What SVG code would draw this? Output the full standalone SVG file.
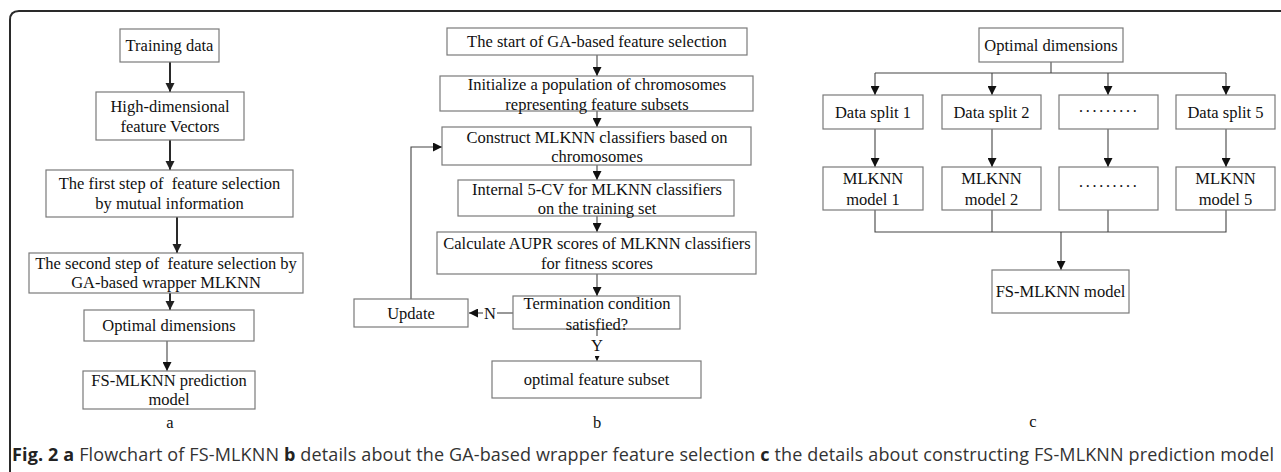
<svg xmlns="http://www.w3.org/2000/svg" width="1281" height="472" viewBox="0 0 1281 472">
<style>
.box{fill:#fff;stroke:#7a7a7a;stroke-width:1.2}
.t{font-family:"Liberation Serif","Times New Roman",serif;font-size:16.5px;fill:#111;text-anchor:middle}
.thick{fill:none;stroke:#2a2a2a;stroke-width:2}
.thin{fill:none;stroke:#444;stroke-width:1.1}
.cap{font-family:"Open Sans","Noto Sans",sans-serif;font-size:18px;fill:#333}
.capb{font-weight:bold;fill:#222}
</style>
<defs>
<marker id="ahb" viewBox="0 0 10 10" refX="10" refY="5" markerWidth="9" markerHeight="10" orient="auto" markerUnits="userSpaceOnUse"><path d="M0,0 L10,5 L0,10 z" fill="#222"/></marker>
<marker id="ah" viewBox="0 0 10 10" refX="10" refY="5" markerWidth="9" markerHeight="9" orient="auto" markerUnits="userSpaceOnUse"><path d="M0,0 L10,5 L0,10 z" fill="#111"/></marker>
<marker id="ahs" viewBox="0 0 10 10" refX="10" refY="5" markerWidth="5" markerHeight="5" orient="auto" markerUnits="userSpaceOnUse"><path d="M0,0 L10,5 L0,10 z" fill="#111"/></marker>
</defs>

<path id="frame" d="M10,472 V20 Q10,11 19,11 H1281" fill="none" stroke="#2a2a2a" stroke-width="2"/>

<g id="connectors">
  <!-- panel a -->
  <line class="thick" x1="170" y1="62" x2="170" y2="92" marker-end="url(#ahb)"/>
  <line class="thick" x1="170" y1="140" x2="170" y2="170" marker-end="url(#ahb)"/>
  <line class="thick" x1="177" y1="217" x2="177" y2="253" marker-end="url(#ahb)"/>
  <line class="thick" x1="170" y1="293" x2="170" y2="310" marker-end="url(#ahb)"/>
  <line class="thin" x1="167" y1="341" x2="167" y2="371" marker-end="url(#ah)"/>
  <!-- panel b -->
  <line class="thin" x1="597" y1="55" x2="597" y2="76" marker-end="url(#ah)"/>
  <line class="thin" x1="597" y1="111" x2="597" y2="127" marker-end="url(#ah)"/>
  <line class="thin" x1="597" y1="165" x2="597" y2="180" marker-end="url(#ah)"/>
  <line class="thin" x1="597" y1="216" x2="597" y2="232" marker-end="url(#ah)"/>
  <line class="thin" x1="597" y1="274" x2="597" y2="296" marker-end="url(#ah)"/>
  <line class="thin" x1="513" y1="313" x2="497" y2="313"/>
  <line class="thin" x1="483" y1="313" x2="469" y2="313" marker-end="url(#ah)"/>
  <polyline class="thin" points="411,299 411,147 442,147" marker-end="url(#ah)"/>
  <line class="thin" x1="597" y1="329" x2="597" y2="336"/>
  <line class="thin" x1="597" y1="356" x2="597" y2="361" marker-end="url(#ahs)"/>
  <!-- panel c -->
  <line class="thin" x1="1051" y1="62" x2="1051" y2="73"/>
  <line class="thin" x1="875" y1="73" x2="1226" y2="73"/>
  <line class="thin" x1="875" y1="73" x2="875" y2="95" marker-end="url(#ah)"/>
  <line class="thin" x1="992" y1="73" x2="992" y2="95" marker-end="url(#ah)"/>
  <line class="thin" x1="1108" y1="73" x2="1108" y2="95" marker-end="url(#ah)"/>
  <line class="thin" x1="1226" y1="73" x2="1226" y2="95" marker-end="url(#ah)"/>
  <line class="thin" x1="875" y1="129" x2="875" y2="167" marker-end="url(#ah)"/>
  <line class="thin" x1="992" y1="129" x2="992" y2="167" marker-end="url(#ah)"/>
  <line class="thin" x1="1108" y1="129" x2="1108" y2="167" marker-end="url(#ah)"/>
  <line class="thin" x1="1226" y1="129" x2="1226" y2="167" marker-end="url(#ah)"/>
  <polyline class="thin" points="875,210 875,232 1226,232 1226,210"/>
  <line class="thin" x1="992" y1="210" x2="992" y2="232"/>
  <line class="thin" x1="1108" y1="210" x2="1108" y2="232"/>
  <line class="thin" x1="1061" y1="232" x2="1061" y2="270" marker-end="url(#ah)"/>
</g>

<!-- panel a -->
<g id="a-training"><rect class="box" x="120" y="29" width="99" height="33"/><text class="t" x="169.5" y="51">Training data</text></g>
<g id="a-highdim"><rect class="box" x="96" y="92" width="148" height="48"/><text class="t" x="170" y="112">High-dimensional</text><text class="t" x="170" y="132">feature Vectors</text></g>
<g id="a-first"><rect class="box" x="46" y="170" width="247" height="47"/><text class="t" x="169.5" y="189" xml:space="preserve">The first step of  feature selection</text><text class="t" x="169.5" y="209">by mutual information</text></g>
<g id="a-second"><rect class="box" x="29" y="253" width="274" height="40"/><text class="t" x="166" y="268.5" xml:space="preserve">The second step of  feature selection by</text><text class="t" x="166" y="288">GA-based wrapper MLKNN</text></g>
<g id="a-optimal"><rect class="box" x="84" y="310" width="170" height="31"/><text class="t" x="169" y="331">Optimal dimensions</text></g>
<g id="a-fsmlknn"><rect class="box" x="83" y="371" width="172" height="38"/><text class="t" x="169" y="385.5">FS-MLKNN prediction</text><text class="t" x="169" y="405">model</text></g>
<text class="t" x="170" y="428">a</text>

<!-- panel b -->
<g id="b-start"><rect class="box" x="447" y="28" width="300" height="27"/><text class="t" x="597" y="47">The start of GA-based feature selection</text></g>
<g id="b-init"><rect class="box" x="440" y="76" width="313" height="35"/><text class="t" x="597" y="89.5">Initialize a population of chromosomes</text><text class="t" x="597" y="109.5">representing feature subsets</text></g>
<g id="b-construct"><rect class="box" x="442" y="127" width="309" height="38"/><text class="t" x="597" y="142.5">Construct MLKNN classifiers based on</text><text class="t" x="597" y="161.5">chromosomes</text></g>
<g id="b-internal"><rect class="box" x="458" y="180" width="276" height="36"/><text class="t" x="597" y="194.5">Internal 5-CV for MLKNN classifiers</text><text class="t" x="597" y="213.5">on the training set</text></g>
<g id="b-calc"><rect class="box" x="437" y="232" width="319" height="42"/><text class="t" x="597" y="248.5">Calculate AUPR scores of MLKNN classifiers</text><text class="t" x="597" y="268.5">for fitness scores</text></g>
<g id="b-term"><rect class="box" x="513" y="296" width="167" height="33"/><text class="t" x="597" y="308.5">Termination condition</text><text class="t" x="597" y="329.5">satisfied?</text></g>
<g id="b-update"><rect class="box" x="354" y="299" width="114" height="28"/><text class="t" x="411" y="318.5">Update</text></g>
<text class="t" x="490" y="318.5">N</text>
<text class="t" x="597" y="351">Y</text>
<g id="b-optimal"><rect class="box" x="492" y="361" width="209" height="37"/><text class="t" x="596.5" y="385">optimal feature subset</text></g>
<text class="t" x="597" y="428">b</text>

<!-- panel c -->
<g id="c-optimal"><rect class="box" x="979" y="28" width="144" height="34"/><text class="t" x="1051" y="50.5">Optimal dimensions</text></g>
<g id="c-split1"><rect class="box" x="823" y="95" width="100" height="34"/><text class="t" x="873" y="117.5">Data split 1</text></g>
<g id="c-split2"><rect class="box" x="942" y="95" width="99" height="34"/><text class="t" x="991.5" y="117.5">Data split 2</text></g>
<g id="c-split3"><rect class="box" x="1059" y="95" width="99" height="34"/><text class="t" x="1108.5" y="117" letter-spacing="1.2">·········</text></g>
<g id="c-split5"><rect class="box" x="1176" y="95" width="99" height="34"/><text class="t" x="1225.5" y="117.5">Data split 5</text></g>
<g id="c-model1"><rect class="box" x="823" y="167" width="100" height="43"/><text class="t" x="873" y="184">MLKNN</text><text class="t" x="873" y="205">model 1</text></g>
<g id="c-model2"><rect class="box" x="942" y="167" width="99" height="43"/><text class="t" x="991.5" y="184">MLKNN</text><text class="t" x="991.5" y="205">model 2</text></g>
<g id="c-model3"><rect class="box" x="1059" y="167" width="99" height="43"/><text class="t" x="1108.5" y="192" letter-spacing="1.2">·········</text></g>
<g id="c-model5"><rect class="box" x="1176" y="167" width="99" height="43"/><text class="t" x="1225.5" y="184">MLKNN</text><text class="t" x="1225.5" y="205">model 5</text></g>
<g id="c-final"><rect class="box" x="992" y="270" width="137" height="43"/><text class="t" x="1060.5" y="297">FS-MLKNN model</text></g>
<text class="t" x="1033" y="427">c</text>

<text class="cap" x="12" y="461" textLength="1262" lengthAdjust="spacing"><tspan class="capb">Fig. 2 a</tspan> Flowchart of FS-MLKNN <tspan class="capb">b</tspan> details about the GA-based wrapper feature selection <tspan class="capb">c</tspan> the details about constructing FS-MLKNN prediction model</text>
</svg>
